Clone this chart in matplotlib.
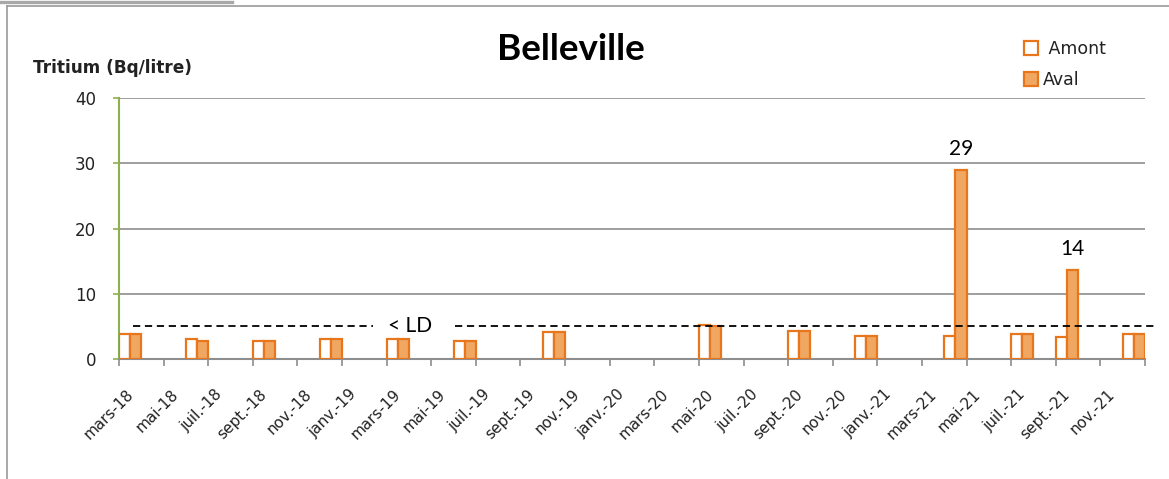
import matplotlib
matplotlib.use("Agg")
import matplotlib.pyplot as plt
from matplotlib.lines import Line2D
from matplotlib.transforms import ScaledTranslation

plt.rcParams["font.family"] = ["DejaVu Sans"]

# Tritium measurements (Bq/litre) upstream / downstream of the site
first_month = (2018, 3)
sample_months = ["2018-03", "2018-06", "2018-09", "2018-12", "2019-03", "2019-06",
                 "2019-10", "2020-05", "2020-09", "2020-12", "2021-04", "2021-07",
                 "2021-09", "2021-12"]
amont = [3.8, 3.1, 2.8, 3.1, 3.1, 2.8, 4.1, 5.2, 4.3, 3.5, 3.5, 3.8, 3.3, 3.8]
aval = [3.8, 2.8, 2.8, 3.1, 3.1, 2.8, 4.1, 5.1, 4.3, 3.5, 29.0, 3.8, 13.6, 3.8]
labelled_aval = [10, 12]          # samples whose value is written above the bar
limite_detection = 5.0

month_labels = ["mars-18", "mai-18", "juil.-18", "sept.-18", "nov.-18",
                "janv.-19", "mars-19", "mai-19", "juil.-19", "sept.-19", "nov.-19",
                "janv.-20", "mars-20", "mai-20", "juil.-20", "sept.-20", "nov.-20",
                "janv.-21", "mars-21", "mai-21", "juil.-21", "sept.-21", "nov.-21"]
y_ticks = [0, 10, 20, 30, 40]


def month_index(ym):
    y, m = (int(v) for v in ym.split("-"))
    return (y - first_month[0]) * 12 + (m - first_month[1])


# each sample sits in the middle of its month slot
x = [month_index(s) + 0.5 for s in sample_months]
n_months = 2 * len(month_labels)

EDGE = "#E8761C"
FILL = "#F0A762"
GRID = "#8E8E8E"
ROUND = ["Lato", "DejaVu Sans"]

fig = plt.figure(figsize=(11.69, 4.79), dpi=100)
ax = fig.add_axes([119 / 1169, 1 - 359 / 479, (1145 - 119) / 1169, (359 - 98) / 479])

w = 0.5
b1 = ax.bar([v - w / 2 for v in x], amont, width=w, facecolor="white",
            edgecolor=EDGE, linewidth=1.6, label=" Amont", zorder=3)
b2 = ax.bar([v + w / 2 for v in x], aval, width=w, facecolor=FILL,
            edgecolor=EDGE, linewidth=1.6, label="Aval", zorder=3)

for i in labelled_aval:
    ax.annotate(f"{aval[i]:.0f}", xy=(x[i] + w / 2, aval[i]), xytext=(0, 8),
                textcoords="offset points", ha="center", va="bottom",
                fontsize=15, family=ROUND)

# detection limit, interrupted by its label
ax.plot([0.63, 11.4], [limite_detection] * 2, color="black", lw=1.3,
        dashes=(4.0, 2.6), zorder=4, clip_on=False)
ax.plot([15.05, 46.55], [limite_detection] * 2, color="black", lw=1.3,
        dashes=(4.0, 2.6), zorder=4, clip_on=False)
ax.text(13.05, limite_detection, "< LD", ha="center", va="center", fontsize=15,
        family=ROUND)

ax.set_xlim(0, n_months)
ax.set_ylim(0, 40)
ax.set_yticks(y_ticks, [str(t) for t in y_ticks])
ax.yaxis.grid(True, color=GRID, lw=1.2)
ax.set_axisbelow(True)

ax.set_xticks(range(0, n_months + 1, 2), month_labels + [""])
ax.tick_params(axis="x", direction="out", length=5, width=1.2, color=GRID,
               pad=3, labelsize=11, labelcolor="#222222")
ax.tick_params(axis="y", direction="out", length=4.5, width=1.2, color="#8DB04E",
               pad=12, labelsize=12, labelcolor="#222222")
shift = ScaledTranslation(0.12, -0.22, fig.dpi_scale_trans)
for lab in ax.get_xticklabels():
    lab.set_rotation(45)
    lab.set_ha("right")
    lab.set_va("center")
    lab.set_rotation_mode("anchor")
    lab.set_transform(lab.get_transform() + shift)

for side in ("top", "right"):
    ax.spines[side].set_visible(False)
ax.spines["left"].set_color("#8DB04E")
ax.spines["left"].set_linewidth(1.5)
ax.spines["bottom"].set_color(GRID)
ax.spines["bottom"].set_linewidth(1.5)

fig.text(571 / 1169, 1 - 49 / 479, "Belleville", ha="center", va="center",
         fontsize=26.5, fontweight="bold", family=ROUND)
fig.text(33 / 1169, 1 - 68 / 479, "Tritium (Bq/litre)", ha="left", va="center",
         fontsize=12.2, fontweight="bold", color="#222222")

fig.legend(handles=[b1, b2], loc="upper left",
           bbox_to_anchor=(1017 / 1169, 1 - 33 / 479), frameon=False,
           fontsize=12.5, handlelength=0.8, handleheight=0.8,
           handletextpad=0.3, labelspacing=0.75, borderaxespad=0,
           labelcolor="#222222")

# outer frame of the chart area
fig.add_artist(Line2D([0, 232 / 1169], [1 - 1.5 / 479] * 2, color="#A8A8A8", lw=2.4))
fig.add_artist(Line2D([7 / 1169, 1], [1 - 6 / 479] * 2, color="#9A9A9A", lw=1.2))
fig.add_artist(Line2D([7 / 1169] * 2, [0, 1 - 6 / 479], color="#9A9A9A", lw=1.2))

fig.savefig("out.png", dpi=100)
